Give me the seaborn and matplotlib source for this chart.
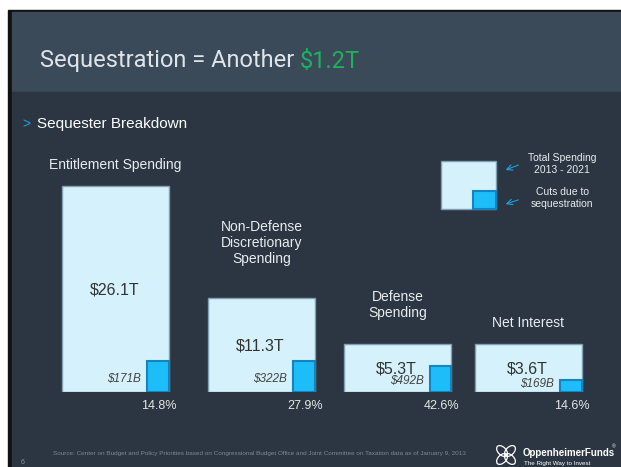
import matplotlib
matplotlib.use('Agg')
import matplotlib.pyplot as plt
from matplotlib.patches import Rectangle, Ellipse
import seaborn as sns

# data
categories = ['Entitlement Spending', 'Non-Defense\nDiscretionary\nSpending',
              'Defense\nSpending', 'Net Interest']
total_labels = ['$26.1T', '$11.3T', '$5.3T', '$3.6T']
cut_labels = ['$171B', '$322B', '$492B', '$169B']
pct_labels = ['14.8%', '27.9%', '42.6%', '14.6%']
# box sizes as drawn on the slide (chart units)
box_height = [206, 94, 48, 48]
cut_height = [31, 31, 26, 12]
cut_width = [22, 22, 21, 22]

sns.set_style('dark')
plt.rcParams['font.family'] = ['Liberation Sans', 'DejaVu Sans']

W, H = 621, 467
fig = plt.figure(figsize=(W / 100, H / 100), dpi=100, facecolor='white')

def pixel_axes(z):
    a = fig.add_axes([0, 0, 1, 1], zorder=z)
    a.set_xlim(0, W)
    a.set_ylim(H, 0)
    a.axis('off')
    a.patch.set_alpha(0)
    return a

# background (slide frame)
bg = pixel_axes(0)
bg.add_patch(Rectangle((8, 10), W, H, color='#111111'))
bg.add_patch(Rectangle((12, 12), W, 80, color='#3b4a59'))
bg.add_patch(Rectangle((12, 92), W, H, color='#2c3642'))

# chart axes: baseline at pixel y=392
base = 392
ax = fig.add_axes([0, 1 - base / H, 1, 242 / H], zorder=1)
ax.set_xlim(0, W)
ax.set_ylim(0, 242)
ax.axis('off')
ax.patch.set_alpha(0)

lefts = [62, 208, 344, 475]
bw = 107
ax.bar(lefts, box_height, width=bw, align='edge', color='#d5f1fc',
       edgecolor='#7f9fb4', linewidth=1)
cut_left = [l + bw - w for l, w in zip(lefts, cut_width)]
ax.bar(cut_left, cut_height, width=cut_width, align='edge', color='#1dbdf9',
       edgecolor='#1583bd', linewidth=1.5)

# text overlay
tx = pixel_axes(2)

# title
t1 = tx.text(40, 61, 'Sequestration = Another ', fontsize=17, color='#dfe4e9',
             family='Roboto', va='center', ha='left')
fig.canvas.draw()
bb = t1.get_window_extent()
x_end = tx.transData.inverted().transform((bb.x1, bb.y0))[0]
tx.text(x_end, 61, '$1.2T', fontsize=17, color='#1db35c',
        family='Roboto', va='center', ha='left')

# subtitle
tx.text(22, 124, '>', fontsize=10, color='#1ba1e2', va='center')
tx.text(37, 124, 'Sequester Breakdown', fontsize=11, color='white', va='center')

cat_y = [165, 243, 305, 323]
for l, c, y in zip(lefts, categories, cat_y):
    tx.text(l + bw / 2, y, c, fontsize=10, color='#e8ecef', ha='center', va='center',
            linespacing=1.2)

tot_y = [290, 346, 369, 369]
for l, t, y in zip(lefts, total_labels, tot_y):
    tx.text(l + bw / 2 - 1, y, t, fontsize=11.5, color='#333333', ha='center', va='center')

cut_y = [379, 379, 381, 384]
for cl, t, y in zip(cut_left, cut_labels, cut_y):
    tx.text(cl - 6, y, t, fontsize=8.5, style='italic', color='#444444',
            ha='right', va='center')

for l, p in zip(lefts, pct_labels):
    tx.text(l + bw - 10, 406, p, fontsize=9, color='#e6e6e6', ha='center', va='center')

# legend
tx.add_patch(Rectangle((441, 161), 55, 48, facecolor='#d5f1fc', edgecolor='#7f9fb4', lw=1))
tx.add_patch(Rectangle((473, 191), 23, 18, facecolor='#1dbdf9', edgecolor='#1583bd', lw=1.5))
tx.text(562, 164, 'Total Spending\n2013 - 2021', fontsize=7.5, color='#e8ecef',
        ha='center', va='center', linespacing=1.3)
tx.text(562, 198, 'Cuts due to\nsequestration', fontsize=7.5, color='#e8ecef',
        ha='center', va='center', linespacing=1.3)
for y0, y1 in [(164, 171), (199, 205)]:
    tx.annotate('', xy=(503, y1), xytext=(521, y0),
                arrowprops=dict(arrowstyle='->', color='#1ba1e2', lw=0.8))

# footer
tx.text(53, 454, 'Source: Center on Budget and Policy Priorities based on Congressional '
        'Budget Office and Joint Committee on Taxation data as of January 9, 2013',
        fontsize=4.6, color='#7d8893', ha='left', va='center')
tx.text(23, 463, '6', fontsize=5, color='#8a949e', ha='center', va='center')

# logo
for dx, dy, a in [(-4, -4, 45), (4, -4, -45), (-4, 4, -45), (4, 4, 45)]:
    tx.add_patch(Ellipse((506 + dx, 455 + dy), 13, 8, angle=a, fill=False,
                         edgecolor='white', lw=0.9))
tx.text(523, 453, 'OppenheimerFunds', fontsize=7, weight='bold', color='white',
        ha='left', va='center')
tx.text(612, 447, '®', fontsize=3.5, color='white', ha='left', va='center')
tx.text(524, 464, 'The Right Way to Invest', fontsize=4.5, color='white', ha='left', va='center')

fig.savefig('out.png', dpi=100, facecolor='white')
